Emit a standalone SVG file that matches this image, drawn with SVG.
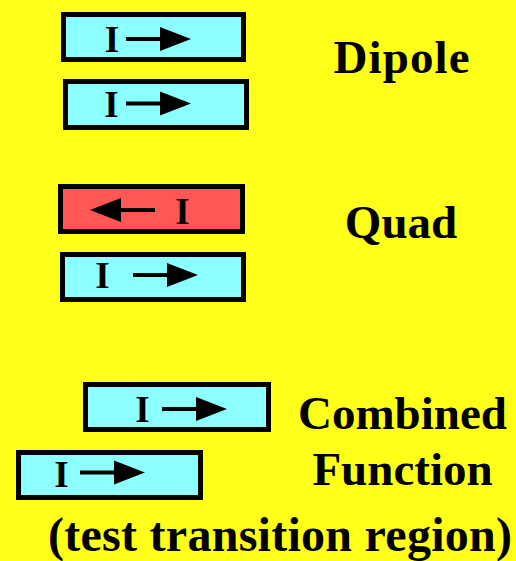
<svg xmlns="http://www.w3.org/2000/svg" width="516" height="561" viewBox="0 0 516 561">
  <style>
    .coil { stroke: #000; stroke-width: 5; }
    .fwd { fill: #8CFFFF; }
    .rev { fill: #FF5656; }
    .cur { font-family: "Liberation Serif", "Times New Roman", serif; font-weight: bold; font-size: 37px; text-anchor: middle; fill: #000; }
    .lbl { font-family: "Liberation Serif", "Times New Roman", serif; font-weight: bold; font-size: 47px; text-anchor: middle; fill: #000; }
  </style>
  <defs>
    <!-- current direction arrow: shaft + triangular head, pointing +x from origin -->
    <path id="arrow" d="M0,-2 H34 V-12 L65,0 L34,12 V2 H0 Z" fill="#000"/>
  </defs>

  <rect width="516" height="561" fill="#FFFF19"/>

  <!-- Dipole -->
  <g id="dipole-upper">
    <rect class="coil fwd" x="63.5" y="14.5" width="180" height="45"/>
    <text class="cur" x="112" y="52">I</text>
    <use href="#arrow" transform="translate(126,39)"/>
  </g>
  <g id="dipole-lower">
    <rect class="coil fwd" x="65.5" y="81.5" width="181" height="46"/>
    <text class="cur" x="111.5" y="117">I</text>
    <use href="#arrow" transform="translate(126,103.5)"/>
  </g>

  <!-- Quad -->
  <g id="quad-upper">
    <rect class="coil rev" x="60.5" y="186.5" width="182" height="45"/>
    <use href="#arrow" transform="translate(155,210) rotate(180)"/>
    <text class="cur" x="182.5" y="224">I</text>
  </g>
  <g id="quad-lower">
    <rect class="coil fwd" x="62.5" y="254.5" width="181" height="45"/>
    <text class="cur" x="102.5" y="288">I</text>
    <use href="#arrow" transform="translate(133,275)"/>
  </g>

  <!-- Combined function -->
  <g id="combined-upper">
    <rect class="coil fwd" x="85.5" y="384.5" width="183" height="45"/>
    <text class="cur" x="142.5" y="422">I</text>
    <use href="#arrow" transform="translate(162,409)"/>
  </g>
  <g id="combined-lower">
    <rect class="coil fwd" x="18.5" y="452.5" width="182" height="45"/>
    <text class="cur" x="61.5" y="487">I</text>
    <use href="#arrow" transform="translate(80,472.5)"/>
  </g>

  <!-- labels -->
  <g id="labels">
    <text class="lbl" x="401.5" y="72.5" textLength="136" lengthAdjust="spacing">Dipole</text>
    <text class="lbl" x="401" y="238">Quad</text>
    <text class="lbl" x="402.5" y="429">Combined</text>
    <text class="lbl" x="402.5" y="485">Function</text>
    <text class="lbl" x="280" y="551" style="font-size:48px" textLength="464" lengthAdjust="spacing">(test transition region)</text>
  </g>
  <g id="connectors"/>
</svg>
